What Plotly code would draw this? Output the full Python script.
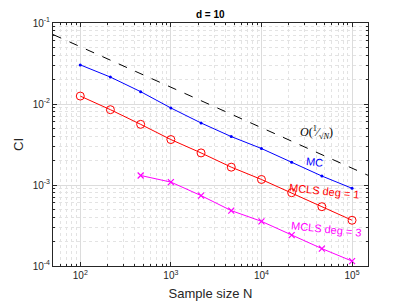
import plotly.graph_objects as go

N = [100, 215, 464, 1000, 2154, 4642, 10000, 21544, 46416, 100000]
mc = [0.0304, 0.0215, 0.0142, 0.00893, 0.00583, 0.00396, 0.00282, 0.00191, 0.00129, 0.00091]
mcls1 = [0.01253, 0.00851, 0.00561, 0.00364, 0.00249, 0.00166, 0.00117, 0.000803, 0.00054, 0.000367]
N3 = [464, 1000, 2154, 4642, 10000, 21544, 46416, 100000]
mcls3 = [0.00131, 0.001087, 0.00074, 0.000483, 0.000356, 0.00024, 0.000164, 0.000115]
N_ref = [50, 150000]
ref = [0.0721, 0.001317]

xticks = [100, 1000, 10000, 100000]
xticktext = ["10<sup>2</sup>", "10<sup>3</sup>", "10<sup>4</sup>", "10<sup>5</sup>"]
yticks = [1e-4, 1e-3, 1e-2, 1e-1]
yticktext = ["10<sup>-4</sup>", "10<sup>-3</sup>", "10<sup>-2</sup>", "10<sup>-1</sup>"]

FONT = "Liberation Sans, Arial"

fig = go.Figure()
fig.add_trace(go.Scatter(x=N_ref, y=ref, mode="lines",
                         line=dict(color="black", width=1, dash="dash")))
fig.add_trace(go.Scatter(x=N, y=mc, mode="lines+markers",
                         line=dict(color="blue", width=1),
                         marker=dict(symbol="circle", size=3, color="blue")))
fig.add_trace(go.Scatter(x=N, y=mcls1, mode="lines+markers",
                         line=dict(color="red", width=1),
                         marker=dict(symbol="circle-open", size=8, color="red",
                                     line=dict(width=1, color="red"))))
fig.add_trace(go.Scatter(x=N3, y=mcls3, mode="lines+markers",
                         line=dict(color="magenta", width=1),
                         marker=dict(symbol="x-thin-open", size=6, color="magenta",
                                     line=dict(width=1.2, color="magenta"))))

axis_common = dict(
    type="log", showline=True, linecolor="#262626", linewidth=1, mirror="ticks",
    ticks="inside", ticklen=4, tickcolor="#262626",
    showgrid=True, gridcolor="#dcdcdc", gridwidth=1,
    zeroline=False, automargin=False,
    tickfont=dict(family=FONT, size=10, color="#262626"),
    minor=dict(ticks="inside", ticklen=2, tickcolor="#262626", showgrid=True,
               gridcolor="#e3e3e3", griddash="dot", dtick="D1"),
)

fig.update_xaxes(**axis_common, range=[1.699, 5.176],
                 tickvals=xticks, ticktext=xticktext,
                 title=dict(text="Sample size N", standoff=8,
                            font=dict(family=FONT, size=13, color="#262626")))
fig.update_yaxes(**axis_common, range=[-4, -1],
                 tickvals=yticks, ticktext=yticktext,
                 title=dict(text="CI", standoff=6,
                            font=dict(family=FONT, size=13, color="#262626")))

fig.add_annotation(x=4.589, y=-2.722, xref="x", yref="y", text="MC", showarrow=False,
                   textangle=6, font=dict(family=FONT, size=11, color="blue"),
                   xanchor="center", yanchor="middle")
fig.add_annotation(x=4.700, y=-3.079, xref="x", yref="y", text="MCLS deg = 1", showarrow=False,
                   textangle=6, font=dict(family=FONT, size=11, color="red"),
                   xanchor="center", yanchor="middle")
fig.add_annotation(x=4.722, y=-3.546, xref="x", yref="y", text="MCLS deg = 3", showarrow=False,
                   textangle=6, font=dict(family=FONT, size=11, color="magenta"),
                   xanchor="center", yanchor="middle")
fig.add_annotation(x=4.611, y=-2.353, xref="x", yref="y",
                   text="<i>O</i>(<sup>1</sup>⁄<sub>√<i>N</i></sub>)", showarrow=False,
                   font=dict(family="Liberation Serif, Times New Roman", size=12, color="black"),
                   xanchor="center", yanchor="middle")

fig.update_layout(
    width=407, height=305,
    margin=dict(l=45, r=47, t=15, b=47),
    paper_bgcolor="white", plot_bgcolor="white",
    showlegend=False,
    title=dict(text="<b>d = 10</b>", x=0.497, xanchor="center", y=0.98, yanchor="middle",
               font=dict(family=FONT, size=10, color="black")),
)

fig.write_html("out.html")
